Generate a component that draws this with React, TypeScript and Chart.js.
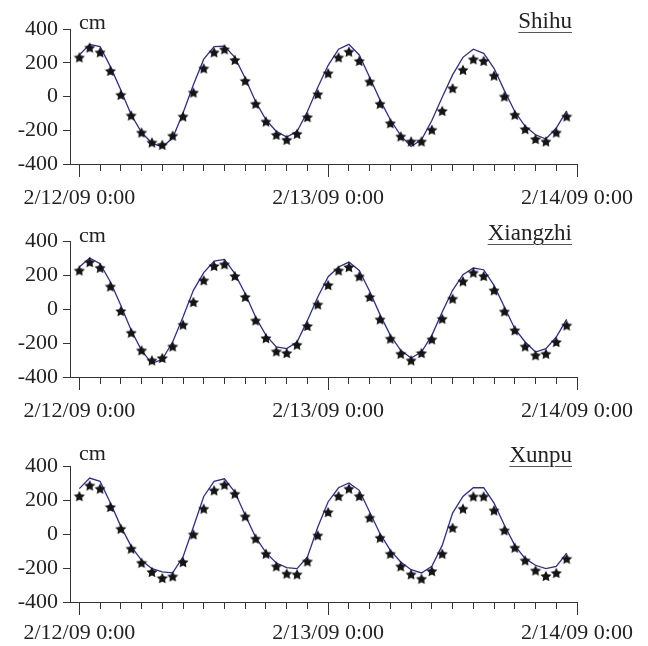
import React, { useEffect, useRef } from 'react';
import { Chart, registerables } from 'chart.js';

Chart.register(...registerables);

// ---------- data ----------
const HOURS = [0, 1, 2, 3, 4, 5, 6, 7, 8, 9, 10, 11, 12, 13, 14, 15, 16, 17, 18, 19, 20, 21, 22, 23,
  24, 25, 26, 27, 28, 29, 30, 31, 32, 33, 34, 35, 36, 37, 38, 39, 40, 41, 42, 43, 44, 45, 46, 47];
const X_TICKS = [0, 2, 4, 6, 8, 10, 12, 14, 16, 18, 20, 22, 24, 26, 28, 30, 32, 34, 36, 38, 40, 42, 44, 46, 48];
const X_MAJOR = [0, 24, 48];
const X_LABELS = ['2/12/09 0:00', '2/13/09 0:00', '2/14/09 0:00'];
const Y_LABELED = [-400, -200, 0, 200, 400];
const STATIONS = ['Shihu', 'Xiangzhi', 'Xunpu'];
const UNIT = 'cm';

const SHIHU_OBS = [232, 290, 262, 152, 10, -112, -213, -272, -286, -232, -118, 24, 167, 262, 280, 217, 93, -43, -148, -227, -256, -221, -122, 14,
  138, 232, 266, 211, 89, -43, -158, -236, -266, -266, -197, -85, 49, 158, 221, 211, 124, 0, -108, -193, -252, -266, -213, -118];
const SHIHU_SIM = [246, 309, 296, 177, 39, -108, -213, -276, -299, -246, -98, 69, 221, 296, 299, 232, 108, -30, -138, -207, -240, -207, -89, 55,
  185, 280, 309, 246, 114, -20, -138, -232, -296, -256, -142, -4, 128, 232, 280, 256, 167, 35, -89, -177, -227, -252, -187, -85];

const XIANGZHI_OBS = [227, 276, 243, 133, -12, -139, -243, -302, -288, -220, -92, 41, 169, 253, 263, 194, 71, -67, -171, -249, -259, -210, -100, 27,
  141, 227, 247, 192, 71, -61, -174, -263, -302, -259, -178, -57, 61, 163, 214, 194, 110, -14, -125, -220, -272, -263, -194, -96];
const XIANGZHI_SIM = [247, 300, 267, 159, 22, -125, -243, -321, -296, -194, -47, 110, 214, 282, 292, 208, 90, -47, -155, -223, -233, -194, -67, 71,
  190, 247, 276, 227, 104, -33, -155, -243, -288, -253, -155, -18, 110, 202, 241, 231, 139, 12, -116, -194, -253, -233, -165, -61];

const XUNPU_OBS = [223, 286, 267, 159, 31, -86, -169, -223, -259, -249, -165, -2, 149, 257, 290, 237, 104, -27, -116, -190, -233, -237, -161, -8,
  129, 223, 267, 223, 96, -22, -116, -190, -237, -263, -218, -116, 37, 149, 221, 221, 139, 22, -80, -155, -214, -247, -229, -145];
const XUNPU_SIM = [267, 329, 310, 182, 45, -73, -155, -204, -223, -229, -135, 41, 221, 310, 325, 247, 110, -18, -110, -171, -198, -204, -135, 41,
  190, 272, 300, 257, 129, 2, -96, -165, -210, -229, -190, -67, 123, 221, 272, 272, 182, 51, -67, -145, -184, -204, -190, -112];

const OBS_SERIES = [SHIHU_OBS, XIANGZHI_OBS, XUNPU_OBS];
const SIM_SERIES = [SHIHU_SIM, XIANGZHI_SIM, XUNPU_SIM];

// ---------- layout / style ----------
const FONT_FAMILY = "'Liberation Serif', 'Times New Roman', serif";
const FONT_SIZE = 22;
const TITLE_SIZE = 23;
const TEXT_COLOR = '#222';
const AXIS_COLOR = '#333';
const LINE_COLOR = '#2c2ca0';

const PANEL_LAYOUT = [
  { top: 0, h: 215, padTop: 29, axisH: 51, labelPad: 14, titleBase: 28, cmBase: 29 },
  { top: 215, h: 215, padTop: 26, axisH: 53, labelPad: 14, titleBase: 25, cmBase: 27 },
  { top: 430, h: 216, padTop: 36, axisH: 44, labelPad: 11, titleBase: 32, cmBase: 30 },
];

function makeStar(size: number) {
  const c = document.createElement('canvas');
  c.width = size;
  c.height = size;
  const ctx = c.getContext('2d')!;
  const cx = size / 2, cy = size / 2 + 0.5;
  const R = size / 2 - 0.2, r = R * 0.5;
  ctx.beginPath();
  for (let i = 0; i < 10; i++) {
    const a = -Math.PI / 2 + (i * Math.PI) / 5;
    const rad = i % 2 ? r : R;
    ctx.lineTo(cx + rad * Math.cos(a), cy + rad * Math.sin(a));
  }
  ctx.closePath();
  ctx.fillStyle = '#141414';
  ctx.fill();
  return c;
}

const majorTickPlugin = {
  id: 'majorTicks',
  afterDraw(chart: any) {
    const xs = chart.scales.x;
    const ctx = chart.ctx;
    ctx.save();
    ctx.strokeStyle = AXIS_COLOR;
    ctx.lineWidth = 1;
    X_MAJOR.forEach((v) => {
      const px = Math.round(xs.getPixelForValue(v)) + 0.5;
      ctx.beginPath();
      ctx.moveTo(px, xs.top);
      ctx.lineTo(px, xs.top + 13);
      ctx.stroke();
    });
    ctx.restore();
  },
};

function Panel({ idx }: { idx: number }) {
  const ref = useRef<HTMLCanvasElement>(null);
  const L = PANEL_LAYOUT[idx];
  useEffect(() => {
    const star = makeStar(12);
    const font = { family: FONT_FAMILY, size: FONT_SIZE };
    const chart = new Chart(ref.current!, {
      type: 'line',
      data: {
        datasets: [
          {
            label: 'Observed',
            data: HOURS.map((h, i) => ({ x: h, y: OBS_SERIES[idx][i] })),
            showLine: false,
            pointStyle: star as any,
            pointRadius: 6,
            borderColor: '#141414',
            backgroundColor: '#141414',
          },
          {
            label: 'Simulated',
            data: HOURS.map((h, i) => ({ x: h, y: SIM_SERIES[idx][i] })),
            borderColor: LINE_COLOR,
            borderWidth: 1.3,
            pointRadius: 0,
            tension: 0,
            fill: false,
          },
        ],
      },
      options: {
        responsive: false,
        animation: false,
        devicePixelRatio: 1,
        events: [],
        layout: { padding: { top: L.padTop, right: 71, left: 0, bottom: 0 } },
        plugins: { legend: { display: false }, tooltip: { enabled: false }, title: { display: false } },
        scales: {
          x: {
            type: 'linear',
            min: -0.9,
            max: 48,
            afterBuildTicks: (s: any) => {
              s.ticks = X_TICKS.map((v) => ({ value: v }));
            },
            afterFit: (s: any) => {
              s.height = L.axisH;
            },
            grid: { drawOnChartArea: false, tickLength: 7, tickColor: AXIS_COLOR, tickWidth: 1 },
            border: { display: true, color: AXIS_COLOR, width: 1 },
            ticks: {
              autoSkip: false,
              maxRotation: 0,
              minRotation: 0,
              padding: L.labelPad,
              font,
              color: TEXT_COLOR,
              callback: (v: any) => {
                const i = X_MAJOR.indexOf(Number(v));
                return i >= 0 ? X_LABELS[i] : '';
              },
            },
          },
          y: {
            type: 'linear',
            min: -400,
            max: 400,
            afterFit: (s: any) => {
              s.width = 70;
            },
            grid: { drawOnChartArea: false, tickLength: 7, tickColor: AXIS_COLOR, tickWidth: 1 },
            border: { display: true, color: AXIS_COLOR, width: 1 },
            ticks: {
              stepSize: 100,
              padding: 5,
              font,
              color: TEXT_COLOR,
              callback: (v: any) => (Y_LABELED.includes(Number(v)) ? String(v) : ''),
            },
          },
        },
      } as any,
      plugins: [majorTickPlugin],
    });
    return () => chart.destroy();
  }, [idx]);

  const textBase: React.CSSProperties = {
    position: 'absolute',
    fontFamily: FONT_FAMILY,
    fontSize: FONT_SIZE,
    lineHeight: `${FONT_SIZE}px`,
    color: TEXT_COLOR,
    whiteSpace: 'nowrap',
  };

  return (
    <div style={{ position: 'absolute', left: 0, top: L.top, width: 648, height: L.h }}>
      <canvas ref={ref} width={648} height={L.h} style={{ display: 'block' }} />
      <div style={{ ...textBase, left: 79, top: L.cmBase - 18.4 }}>{UNIT}</div>
      <div
        style={{
          ...textBase,
          fontSize: TITLE_SIZE,
          lineHeight: `${TITLE_SIZE}px`,
          right: 76,
          top: L.titleBase - 19.2,
          textDecoration: 'underline',
          textUnderlineOffset: '4px',
          textDecorationThickness: '1px',
          textDecorationColor: '#555',
        }}
      >
        {STATIONS[idx]}
      </div>
    </div>
  );
}

export default function App() {
  return (
    <div style={{ position: 'absolute', left: 0, top: 0, width: 648, height: 646, background: '#fff' }}>
      <Panel idx={0} />
      <Panel idx={1} />
      <Panel idx={2} />
    </div>
  );
}
